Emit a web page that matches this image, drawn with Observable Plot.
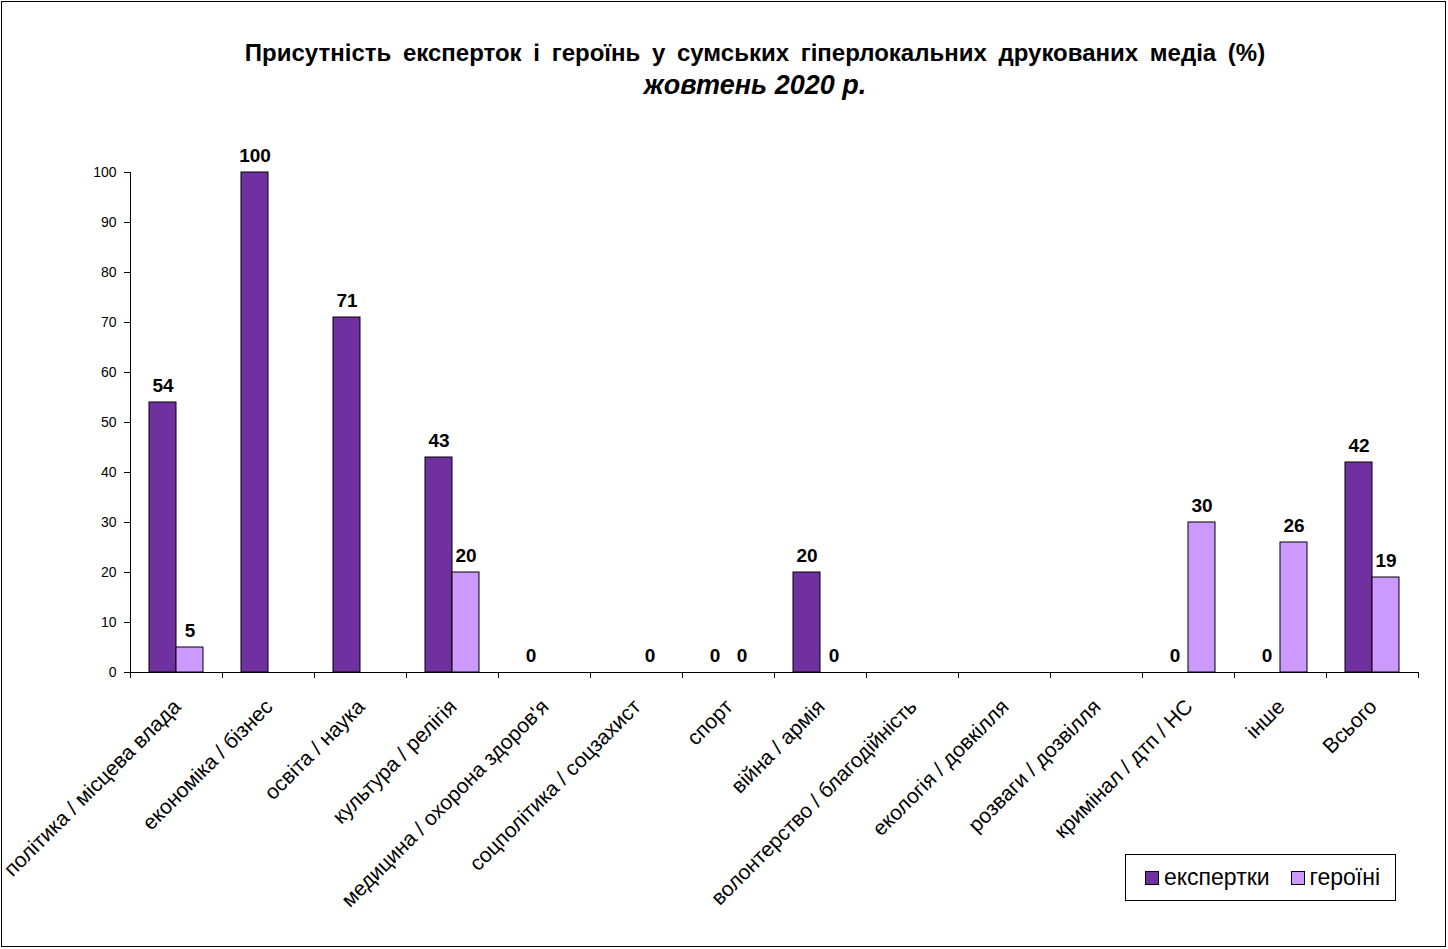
<!DOCTYPE html>
<html>
<head>
<meta charset="utf-8">
<script src="https://cdn.jsdelivr.net/npm/d3@7"></script>
<script src="https://cdn.jsdelivr.net/npm/@observablehq/plot@0.6"></script>
<style>
  body { margin: 0; background: #fff; font-family: Arial, "Liberation Sans", sans-serif; }
  #chart { position: relative; width: 1448px; height: 949px; overflow: hidden; background: #fff; }
  #frame { position: absolute; left: 1px; top: 1px; width: 1445px; height: 946px; border: 1.5px solid #000; box-sizing: border-box; pointer-events: none; }
  #title { position: absolute; left: 62px; top: 36px; width: 1386px; text-align: center; color: #000; }
  #title .main { font-size: 24px; font-weight: bold; word-spacing: 5px; line-height: 34px; }
  #title .sub { font-size: 27px; font-weight: bold; font-style: italic; line-height: 30px; }
  #plot { position: absolute; left: 0; top: 140px; }
  #legend { position: absolute; left: 1125px; top: 854px; width: 271px; height: 47px; border: 1px solid #000; box-sizing: border-box; background: #fff; display: flex; align-items: center; padding-left: 19px; font-size: 23px; }
  #legend .item { display: flex; align-items: center; margin-right: 21px; }
  #legend .sw { width: 12px; height: 12px; border: 1px solid #000; margin-right: 5px; }
</style>
</head>
<body>
<div id="chart">
  <div id="title">
    <div class="main">Присутність експерток і героїнь у сумських гіперлокальних друкованих медіа (%)</div>
    <div class="sub">жовтень 2020 р.</div>
  </div>
  <div id="plot"></div>
  <div id="legend"></div>
  <div id="frame"></div>
</div>
<script>
// Topic categories along the x axis
const categories = [
  "політика / місцева влада",
  "економіка / бізнес",
  "освіта / наука",
  "культура / релігія",
  "медицина / охорона здоров'я",
  "соцполітика / соцзахист",
  "спорт",
  "війна / армія",
  "волонтерство / благодійність",
  "екологія / довкілля",
  "розваги / дозвілля",
  "кримінал / дтп / НС",
  "інше",
  "Всього"
];

// Series names and colours
const seriesNames = ["експертки", "героїні"];
const seriesColors = ["#7030A0", "#CC99FF"];

// Percentages per category (null = no value shown)
const experts  = [54, 100, 71, 43, 0, null, 0, 20, null, null, null, 0, 0, 42];
const heroines = [5, null, null, 20, null, 0, 0, 0, null, null, null, 30, 26, 19];

// Y axis tick values
const yTicks = [0, 10, 20, 30, 40, 50, 60, 70, 80, 90, 100];

// Long-format rows for the grouped bars
const rows = [];
categories.forEach((c, i) => {
  if (experts[i] != null) rows.push({category: c, series: seriesNames[0], value: experts[i]});
  if (heroines[i] != null) rows.push({category: c, series: seriesNames[1], value: heroines[i]});
});
const expRows = rows.filter(d => d.series === seriesNames[0]);
const herRows = rows.filter(d => d.series === seriesNames[1]);

const band = 92;        // category width in px
const barW = 27;        // single bar width in px
const outer = (band - 2 * barW) / 2;

const chart = Plot.plot({
  width: 1448,
  height: 809,
  marginLeft: 130,
  marginRight: 30,
  marginTop: 32,
  marginBottom: 277,
  style: {fontFamily: "Arial, 'Liberation Sans', sans-serif", fontSize: "14px", color: "#000", background: "#fff"},
  x: {domain: categories, padding: 0, axis: null},
  y: {domain: [0, 100], axis: null},
  marks: [
    // bars
    Plot.barY(expRows.filter(d => d.value > 0), {x: "category", y: "value", fill: seriesColors[0], stroke: "#000", strokeWidth: 1, insetLeft: outer, insetRight: outer + barW}),
    Plot.barY(herRows.filter(d => d.value > 0), {x: "category", y: "value", fill: seriesColors[1], stroke: "#000", strokeWidth: 1, insetLeft: outer + barW, insetRight: outer}),
    // value labels
    Plot.text(expRows, {x: "category", y: "value", text: d => String(d.value), dx: -barW / 2, dy: -11, lineAnchor: "bottom", fontWeight: "bold", fontSize: 19, fill: "#000"}),
    Plot.text(herRows, {x: "category", y: "value", text: d => String(d.value), dx: barW / 2, dy: -11, lineAnchor: "bottom", fontWeight: "bold", fontSize: 19, fill: "#000"}),
    // axes lines
    Plot.ruleY([0], {stroke: "#000", strokeWidth: 1}),
    Plot.ruleX([categories[0]], {dx: -band / 2, stroke: "#000", strokeWidth: 1}),
    // y ticks and labels
    Plot.axisY(yTicks, {tickSize: 6, tickPadding: 8, fontSize: 14, label: null, stroke: "#000", fill: "#000"}),
    // category boundary ticks on the x axis
    Plot.ruleX(categories, {dx: -band / 2, y1: 0, y2: 0, insetBottom: -6, stroke: "#000"}),
    Plot.ruleX([categories[categories.length - 1]], {dx: band / 2, y1: 0, y2: 0, insetBottom: -6, stroke: "#000"}),
    // rotated category labels
    Plot.text(categories, {x: d => d, frameAnchor: "bottom", rotate: -45, textAnchor: "end", lineAnchor: "top", dx: -5, dy: 25, fontSize: 21, fill: "#000"})
  ]
});
document.getElementById("plot").appendChild(chart);

// legend
const legend = document.getElementById("legend");
seriesNames.forEach((name, i) => {
  const item = document.createElement("div");
  item.className = "item";
  const sw = document.createElement("div");
  sw.className = "sw";
  sw.style.background = seriesColors[i];
  const label = document.createElement("span");
  label.textContent = name;
  item.appendChild(sw);
  item.appendChild(label);
  legend.appendChild(item);
});
</script>
</body>
</html>
